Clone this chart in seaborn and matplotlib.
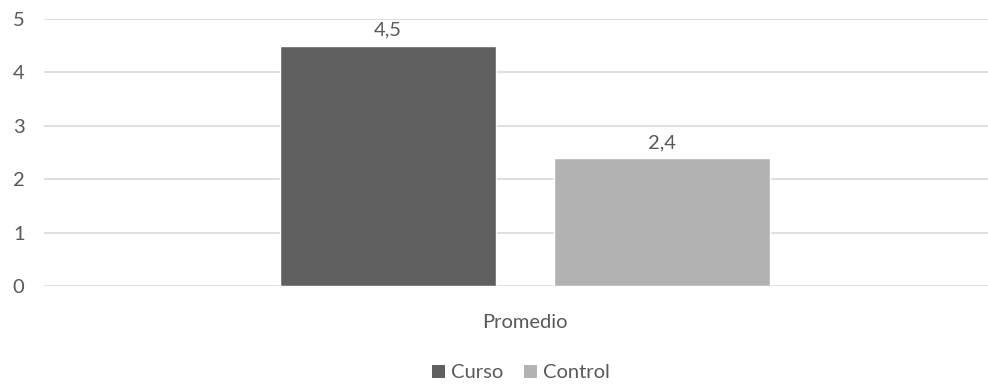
import matplotlib
matplotlib.use("Agg")
import matplotlib.pyplot as plt
from matplotlib.patches import Patch
import seaborn as sns
import pandas as pd

# Average score per group
categories = ["Promedio"]
groups = ["Curso", "Control"]
values = [4.5, 2.4]
colors = ["#5f5f5f", "#b2b2b2"]
y_ticks = [0, 1, 2, 3, 4, 5]

df = pd.DataFrame({
    "categoria": categories * len(groups),
    "grupo": groups,
    "valor": values,
})

sns.set_theme(style="white")
plt.rcParams["font.family"] = ["Lato", "DejaVu Sans"]
text_color = "#595959"
fs = 14.5

fig = plt.figure(figsize=(9.88, 3.85), dpi=100)
ax = fig.add_axes([44 / 988, 1 - 286 / 385, 962 / 988, 267 / 385])

sns.barplot(
    data=df, x="categoria", y="valor", hue="grupo",
    palette=colors, width=0.57, gap=0.21, saturation=1,
    legend=False, ax=ax, zorder=3,
)

ax.set_xlim(-0.5, 0.5)
ax.set_ylim(0, 5)
ax.set_yticks(y_ticks)
ax.set_yticklabels([str(t) for t in y_ticks])
ax.set_xlabel("")
ax.set_ylabel("")
ax.grid(axis="y", color="#d9d9d9", linewidth=1.2, zorder=0)
ax.set_axisbelow(True)
for s in ax.spines.values():
    s.set_visible(False)
ax.tick_params(axis="y", length=0, pad=14, labelsize=fs, labelcolor=text_color)
ax.tick_params(axis="x", length=0, pad=20, labelsize=fs, labelcolor=text_color)

for cont in ax.containers:
    ax.bar_label(
        cont, labels=[f"{v:.1f}".replace(".", ",") for v in cont.datavalues],
        padding=5, fontsize=fs, color=text_color,
    )

handles = [Patch(facecolor=c, edgecolor="none") for c in colors]
fig.legend(
    handles, groups, loc="center", bbox_to_anchor=(521 / 988, 1 - 373 / 385),
    ncol=2, frameon=False, fontsize=fs, labelcolor=text_color,
    handlelength=0.65, handleheight=0.65, handletextpad=0.3, columnspacing=1.0,
)

fig.savefig("out.png", dpi=100)
